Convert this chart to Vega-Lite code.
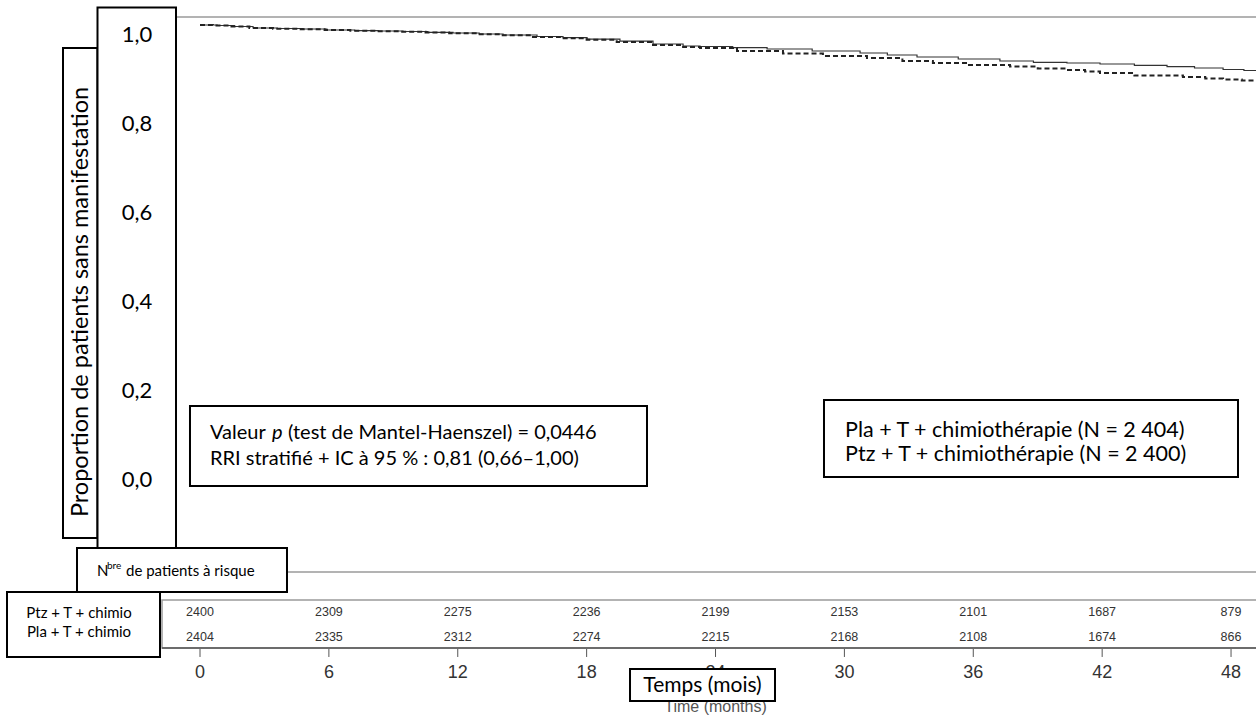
{
  "$schema": "https://vega.github.io/schema/vega-lite/v6.json",
  "width": 1256,
  "height": 715,
  "autosize": {"type": "fit", "contains": "padding"},
  "padding": 0,
  "background": "white",
  "config": {"view": {"stroke": null}},
  "datasets": {
    "km": [
      {"arm": "Ptz", "month": 0, "surv": 1.0},
      {"arm": "Ptz", "month": 0.8, "surv": 0.9989},
      {"arm": "Ptz", "month": 1.6, "surv": 0.9966},
      {"arm": "Ptz", "month": 2.47, "surv": 0.9933},
      {"arm": "Ptz", "month": 3.6, "surv": 0.9921},
      {"arm": "Ptz", "month": 4.8, "surv": 0.991},
      {"arm": "Ptz", "month": 5.91, "surv": 0.9888},
      {"arm": "Ptz", "month": 7.2, "surv": 0.9876},
      {"arm": "Ptz", "month": 8.3, "surv": 0.9865},
      {"arm": "Ptz", "month": 9.45, "surv": 0.9854},
      {"arm": "Ptz", "month": 10.6, "surv": 0.9836},
      {"arm": "Ptz", "month": 11.78, "surv": 0.982},
      {"arm": "Ptz", "month": 13.0, "surv": 0.9798},
      {"arm": "Ptz", "month": 14.11, "surv": 0.9775},
      {"arm": "Ptz", "month": 15.69, "surv": 0.9742},
      {"arm": "Ptz", "month": 16.9, "surv": 0.9715},
      {"arm": "Ptz", "month": 18.02, "surv": 0.9685},
      {"arm": "Ptz", "month": 19.55, "surv": 0.964},
      {"arm": "Ptz", "month": 21.09, "surv": 0.9573},
      {"arm": "Ptz", "month": 22.49, "surv": 0.9528},
      {"arm": "Ptz", "month": 23.28, "surv": 0.9517},
      {"arm": "Ptz", "month": 24.8, "surv": 0.949},
      {"arm": "Ptz", "month": 26.4, "surv": 0.9461},
      {"arm": "Ptz", "month": 28.5, "surv": 0.9416},
      {"arm": "Ptz", "month": 30.73, "surv": 0.9371},
      {"arm": "Ptz", "month": 32.0, "surv": 0.9326},
      {"arm": "Ptz", "month": 33.38, "surv": 0.9281},
      {"arm": "Ptz", "month": 35.3, "surv": 0.9236},
      {"arm": "Ptz", "month": 37.24, "surv": 0.9191},
      {"arm": "Ptz", "month": 38.8, "surv": 0.9162},
      {"arm": "Ptz", "month": 40.36, "surv": 0.9146},
      {"arm": "Ptz", "month": 41.9, "surv": 0.9124},
      {"arm": "Ptz", "month": 43.5, "surv": 0.9094},
      {"arm": "Ptz", "month": 45.02, "surv": 0.9067},
      {"arm": "Ptz", "month": 46.3, "surv": 0.9034},
      {"arm": "Ptz", "month": 47.63, "surv": 0.9},
      {"arm": "Ptz", "month": 48.6, "surv": 0.8978},
      {"arm": "Ptz", "month": 49.4, "surv": 0.8966},
      {"arm": "Pla", "month": 0, "surv": 1.0},
      {"arm": "Pla", "month": 0.6, "surv": 0.9989},
      {"arm": "Pla", "month": 1.4, "surv": 0.9966},
      {"arm": "Pla", "month": 2.3, "surv": 0.9933},
      {"arm": "Pla", "month": 3.4, "surv": 0.9917},
      {"arm": "Pla", "month": 4.6, "surv": 0.9903},
      {"arm": "Pla", "month": 5.8, "surv": 0.9888},
      {"arm": "Pla", "month": 7.0, "surv": 0.9872},
      {"arm": "Pla", "month": 8.2, "surv": 0.9858},
      {"arm": "Pla", "month": 9.3, "surv": 0.9847},
      {"arm": "Pla", "month": 10.5, "surv": 0.9831},
      {"arm": "Pla", "month": 11.6, "surv": 0.9813},
      {"arm": "Pla", "month": 12.9, "surv": 0.9791},
      {"arm": "Pla", "month": 14.0, "surv": 0.9769},
      {"arm": "Pla", "month": 15.5, "surv": 0.973},
      {"arm": "Pla", "month": 16.8, "surv": 0.9701},
      {"arm": "Pla", "month": 18.0, "surv": 0.967},
      {"arm": "Pla", "month": 19.4, "surv": 0.9618},
      {"arm": "Pla", "month": 21.0, "surv": 0.9551},
      {"arm": "Pla", "month": 22.49, "surv": 0.9506},
      {"arm": "Pla", "month": 23.28, "surv": 0.9483},
      {"arm": "Pla", "month": 25.0, "surv": 0.9416},
      {"arm": "Pla", "month": 27.14, "surv": 0.936},
      {"arm": "Pla", "month": 29.0, "surv": 0.9303},
      {"arm": "Pla", "month": 31.05, "surv": 0.9258},
      {"arm": "Pla", "month": 32.7, "surv": 0.9191},
      {"arm": "Pla", "month": 34.12, "surv": 0.9146},
      {"arm": "Pla", "month": 35.8, "surv": 0.9101},
      {"arm": "Pla", "month": 37.71, "surv": 0.9067},
      {"arm": "Pla", "month": 39.0, "surv": 0.9022},
      {"arm": "Pla", "month": 40.36, "surv": 0.8989},
      {"arm": "Pla", "month": 41.2, "surv": 0.8955},
      {"arm": "Pla", "month": 41.9, "surv": 0.8921},
      {"arm": "Pla", "month": 43.5, "surv": 0.8865},
      {"arm": "Pla", "month": 45.76, "surv": 0.8831},
      {"arm": "Pla", "month": 46.8, "surv": 0.8798},
      {"arm": "Pla", "month": 47.63, "surv": 0.8775},
      {"arm": "Pla", "month": 48.5, "surv": 0.8753},
      {"arm": "Pla", "month": 49.4, "surv": 0.8742}
    ],
    "risk": [
      {"arm": "Ptz", "month": 0, "n": 2400},
      {"arm": "Ptz", "month": 6, "n": 2309},
      {"arm": "Ptz", "month": 12, "n": 2275},
      {"arm": "Ptz", "month": 18, "n": 2236},
      {"arm": "Ptz", "month": 24, "n": 2199},
      {"arm": "Ptz", "month": 30, "n": 2153},
      {"arm": "Ptz", "month": 36, "n": 2101},
      {"arm": "Ptz", "month": 42, "n": 1687},
      {"arm": "Ptz", "month": 48, "n": 879},
      {"arm": "Pla", "month": 0, "n": 2404},
      {"arm": "Pla", "month": 6, "n": 2335},
      {"arm": "Pla", "month": 12, "n": 2312},
      {"arm": "Pla", "month": 18, "n": 2274},
      {"arm": "Pla", "month": 24, "n": 2215},
      {"arm": "Pla", "month": 30, "n": 2168},
      {"arm": "Pla", "month": 36, "n": 2108},
      {"arm": "Pla", "month": 42, "n": 1674},
      {"arm": "Pla", "month": 48, "n": 866}
    ],
    "xticks": [
      {"month": 0, "label": "0"}, {"month": 6, "label": "6"}, {"month": 12, "label": "12"},
      {"month": 18, "label": "18"}, {"month": 24, "label": "24"}, {"month": 30, "label": "30"},
      {"month": 36, "label": "36"}, {"month": 42, "label": "42"}, {"month": 48, "label": "48"}
    ],
    "yticks": [
      {"v": 1.0, "label": "1,0"}, {"v": 0.8, "label": "0,8"}, {"v": 0.6, "label": "0,6"},
      {"v": 0.4, "label": "0,4"}, {"v": 0.2, "label": "0,2"}, {"v": 0.0, "label": "0,0"}
    ]
  },
  "layer": [
    {
      "data": {"values": [{"el": "frame top"}]},
      "mark": {"type": "rule", "color": "#9a9a9a", "strokeWidth": 1.5, "clip": true},
      "encoding": {
        "x": {"datum": -1.117, "type": "quantitative", "scale": {"domain": [-9.311, 49.162], "nice": false, "zero": false}, "axis": null},
        "x2": {"datum": 49.162},
        "y": {"datum": 1.018, "type": "quantitative", "scale": {"domain": [-0.5506, 1.0562], "nice": false, "zero": false}, "axis": null}
      }
    },
    {
      "data": {"values": [{"el": "risk header line"}]},
      "mark": {"type": "rule", "color": "#9a9a9a", "strokeWidth": 1.5, "clip": true},
      "encoding": {
        "x": {"datum": 4.05, "type": "quantitative", "scale": {"domain": [-9.311, 49.162], "nice": false, "zero": false}, "axis": null},
        "x2": {"datum": 49.162},
        "y": {"datum": -0.2292, "type": "quantitative", "scale": {"domain": [-0.5506, 1.0562], "nice": false, "zero": false}, "axis": null}
      }
    },
    {
      "data": {"values": [{"el": "risk table frame"}]},
      "mark": {"type": "rect", "filled": false, "stroke": "#9a9a9a", "strokeWidth": 1.5, "clip": true},
      "encoding": {
        "x": {"datum": -1.769, "type": "quantitative", "scale": {"domain": [-9.311, 49.162], "nice": false, "zero": false}, "axis": null},
        "x2": {"datum": 49.6},
        "y": {"datum": -0.2921, "type": "quantitative", "scale": {"domain": [-0.5506, 1.0562], "nice": false, "zero": false}, "axis": null},
        "y2": {"datum": -0.4}
      }
    },
    {
      "data": {"values": [{"el": "x axis line"}]},
      "mark": {"type": "rule", "color": "#555555", "strokeWidth": 1.5, "clip": true},
      "encoding": {
        "x": {"datum": -1.769, "type": "quantitative", "scale": {"domain": [-9.311, 49.162], "nice": false, "zero": false}, "axis": null},
        "x2": {"datum": 49.162},
        "y": {"datum": -0.4, "type": "quantitative", "scale": {"domain": [-0.5506, 1.0562], "nice": false, "zero": false}, "axis": null}
      }
    },
    {
      "data": {"name": "km"},
      "transform": [{"filter": "datum.arm === 'Ptz'"}],
      "mark": {"type": "line", "interpolate": "step-after", "color": "#333333", "strokeWidth": 1.2, "clip": true},
      "encoding": {
        "x": {"field": "month", "type": "quantitative", "scale": {"domain": [-9.311, 49.162], "nice": false, "zero": false}, "axis": null},
        "y": {"field": "surv", "type": "quantitative", "scale": {"domain": [-0.5506, 1.0562], "nice": false, "zero": false}, "axis": null}
      }
    },
    {
      "data": {"name": "km"},
      "transform": [{"filter": "datum.arm === 'Pla'"}],
      "mark": {"type": "line", "interpolate": "step-after", "color": "#222222", "strokeWidth": 2, "strokeDash": [5, 3], "clip": true},
      "encoding": {
        "x": {"field": "month", "type": "quantitative", "scale": {"domain": [-9.311, 49.162], "nice": false, "zero": false}, "axis": null},
        "y": {"field": "surv", "type": "quantitative", "scale": {"domain": [-0.5506, 1.0562], "nice": false, "zero": false}, "axis": null}
      }
    },
    {
      "data": {"name": "risk"},
      "transform": [{"filter": "datum.arm === 'Ptz'"}],
      "mark": {"type": "text", "font": "Liberation Sans", "fontSize": 12.5, "color": "#333333", "align": "center", "baseline": "middle", "clip": true},
      "encoding": {
        "x": {"field": "month", "type": "quantitative", "scale": {"domain": [-9.311, 49.162], "nice": false, "zero": false}, "axis": null},
        "y": {"datum": -0.3191, "type": "quantitative", "scale": {"domain": [-0.5506, 1.0562], "nice": false, "zero": false}, "axis": null},
        "text": {"field": "n", "type": "nominal"}
      }
    },
    {
      "data": {"name": "risk"},
      "transform": [{"filter": "datum.arm === 'Pla'"}],
      "mark": {"type": "text", "font": "Liberation Sans", "fontSize": 12.5, "color": "#333333", "align": "center", "baseline": "middle", "clip": true},
      "encoding": {
        "x": {"field": "month", "type": "quantitative", "scale": {"domain": [-9.311, 49.162], "nice": false, "zero": false}, "axis": null},
        "y": {"datum": -0.3753, "type": "quantitative", "scale": {"domain": [-0.5506, 1.0562], "nice": false, "zero": false}, "axis": null},
        "text": {"field": "n", "type": "nominal"}
      }
    },
    {
      "data": {"name": "xticks"},
      "mark": {"type": "rule", "color": "#555555", "strokeWidth": 1, "clip": true},
      "encoding": {
        "x": {"field": "month", "type": "quantitative", "scale": {"domain": [-9.311, 49.162], "nice": false, "zero": false}, "axis": null},
        "y": {"datum": -0.4022, "type": "quantitative", "scale": {"domain": [-0.5506, 1.0562], "nice": false, "zero": false}, "axis": null},
        "y2": {"datum": -0.4202}
      }
    },
    {
      "data": {"name": "xticks"},
      "mark": {"type": "text", "font": "Liberation Sans", "fontSize": 18, "color": "#333333", "align": "center", "baseline": "middle", "clip": true},
      "encoding": {
        "x": {"field": "month", "type": "quantitative", "scale": {"domain": [-9.311, 49.162], "nice": false, "zero": false}, "axis": null},
        "y": {"datum": -0.4562, "type": "quantitative", "scale": {"domain": [-0.5506, 1.0562], "nice": false, "zero": false}, "axis": null},
        "text": {"field": "label", "type": "nominal"}
      }
    },
    {
      "data": {"values": [{"text": "Time (months)"}]},
      "mark": {"type": "text", "font": "Liberation Sans", "fontSize": 16, "color": "#555555", "align": "center", "baseline": "middle", "clip": true},
      "encoding": {
        "x": {"datum": 24, "type": "quantitative", "scale": {"domain": [-9.311, 49.162], "nice": false, "zero": false}, "axis": null},
        "y": {"datum": -0.5326, "type": "quantitative", "scale": {"domain": [-0.5506, 1.0562], "nice": false, "zero": false}, "axis": null},
        "text": {"field": "text", "type": "nominal"}
      }
    },
    {
      "data": {"values": [{"box": "x title"}]},
      "mark": {"type": "rect", "fill": "white", "stroke": "black", "strokeWidth": 2, "clip": true},
      "encoding": {
        "x": {"datum": 20.019, "type": "quantitative", "scale": {"domain": [-9.311, 49.162], "nice": false, "zero": false}, "axis": null},
        "x2": {"datum": 26.769},
        "y": {"datum": -0.4472, "type": "quantitative", "scale": {"domain": [-0.5506, 1.0562], "nice": false, "zero": false}, "axis": null},
        "y2": {"datum": -0.5191}
      }
    },
    {
      "data": {"values": [{"text": "Temps (mois)"}]},
      "mark": {"type": "text", "font": "Lato", "fontSize": 21, "color": "black", "align": "center", "baseline": "middle", "clip": true},
      "encoding": {
        "x": {"datum": 23.394, "type": "quantitative", "scale": {"domain": [-9.311, 49.162], "nice": false, "zero": false}, "axis": null},
        "y": {"datum": -0.4854, "type": "quantitative", "scale": {"domain": [-0.5506, 1.0562], "nice": false, "zero": false}, "axis": null},
        "text": {"field": "text", "type": "nominal"}
      }
    },
    {
      "data": {"values": [{"box": "y title"}]},
      "mark": {"type": "rect", "fill": "white", "stroke": "black", "strokeWidth": 2, "clip": true},
      "encoding": {
        "x": {"datum": -6.378, "type": "quantitative", "scale": {"domain": [-9.311, 49.162], "nice": false, "zero": false}, "axis": null},
        "x2": {"datum": -4.772},
        "y": {"datum": 0.9483, "type": "quantitative", "scale": {"domain": [-0.5506, 1.0562], "nice": false, "zero": false}, "axis": null},
        "y2": {"datum": -0.1528}
      }
    },
    {
      "data": {"values": [{"text": "Proportion de patients sans manifestation"}]},
      "mark": {"type": "text", "font": "Lato", "fontSize": 23.5, "color": "black", "align": "center", "baseline": "middle", "angle": 270, "clip": true},
      "encoding": {
        "x": {"datum": -5.54, "type": "quantitative", "scale": {"domain": [-9.311, 49.162], "nice": false, "zero": false}, "axis": null},
        "y": {"datum": 0.3775, "type": "quantitative", "scale": {"domain": [-0.5506, 1.0562], "nice": false, "zero": false}, "axis": null},
        "text": {"field": "text", "type": "nominal"}
      }
    },
    {
      "data": {"values": [{"box": "y labels"}]},
      "mark": {"type": "rect", "fill": "white", "stroke": "black", "strokeWidth": 2, "clip": true},
      "encoding": {
        "x": {"datum": -4.772, "type": "quantitative", "scale": {"domain": [-9.311, 49.162], "nice": false, "zero": false}, "axis": null},
        "x2": {"datum": -1.117},
        "y": {"datum": 1.0393, "type": "quantitative", "scale": {"domain": [-0.5506, 1.0562], "nice": false, "zero": false}, "axis": null},
        "y2": {"datum": -0.1753}
      }
    },
    {
      "data": {"name": "yticks"},
      "mark": {"type": "text", "font": "Lato", "fontSize": 22, "color": "black", "align": "center", "baseline": "middle", "dy": 10, "clip": true},
      "encoding": {
        "x": {"datum": -2.933, "type": "quantitative", "scale": {"domain": [-9.311, 49.162], "nice": false, "zero": false}, "axis": null},
        "y": {"field": "v", "type": "quantitative", "scale": {"domain": [-0.5506, 1.0562], "nice": false, "zero": false}, "axis": null},
        "text": {"field": "label", "type": "nominal"}
      }
    },
    {
      "data": {"values": [{"box": "test box"}]},
      "mark": {"type": "rect", "fill": "white", "stroke": "black", "strokeWidth": 2, "clip": true},
      "encoding": {
        "x": {"datum": -0.466, "type": "quantitative", "scale": {"domain": [-9.311, 49.162], "nice": false, "zero": false}, "axis": null},
        "x2": {"datum": 20.81},
        "y": {"datum": 0.1438, "type": "quantitative", "scale": {"domain": [-0.5506, 1.0562], "nice": false, "zero": false}, "axis": null},
        "y2": {"datum": -0.036}
      }
    },
    {
      "data": {"values": [{"text": "Valeur"}]},
      "mark": {"type": "text", "font": "Lato", "fontSize": 20, "color": "black", "align": "left", "baseline": "middle", "clip": true},
      "encoding": {
        "x": {"datum": 0.466, "type": "quantitative", "scale": {"domain": [-9.311, 49.162], "nice": false, "zero": false}, "axis": null},
        "y": {"datum": 0.0831, "type": "quantitative", "scale": {"domain": [-0.5506, 1.0562], "nice": false, "zero": false}, "axis": null},
        "text": {"field": "text", "type": "nominal"}
      }
    },
    {
      "data": {"values": [{"text": "p"}]},
      "mark": {"type": "text", "font": "Lato", "fontSize": 20, "fontStyle": "italic", "color": "black", "align": "left", "baseline": "middle", "clip": true},
      "encoding": {
        "x": {"datum": 3.352, "type": "quantitative", "scale": {"domain": [-9.311, 49.162], "nice": false, "zero": false}, "axis": null},
        "y": {"datum": 0.0831, "type": "quantitative", "scale": {"domain": [-0.5506, 1.0562], "nice": false, "zero": false}, "axis": null},
        "text": {"field": "text", "type": "nominal"}
      }
    },
    {
      "data": {"values": [{"text": "(test de Mantel-Haenszel) = 0,0446"}]},
      "mark": {"type": "text", "font": "Lato", "fontSize": 20, "color": "black", "align": "left", "baseline": "middle", "clip": true},
      "encoding": {
        "x": {"datum": 4.097, "type": "quantitative", "scale": {"domain": [-9.311, 49.162], "nice": false, "zero": false}, "axis": null},
        "y": {"datum": 0.0831, "type": "quantitative", "scale": {"domain": [-0.5506, 1.0562], "nice": false, "zero": false}, "axis": null},
        "text": {"field": "text", "type": "nominal"}
      }
    },
    {
      "data": {"values": [{"text": "RRI stratifié + IC à 95 % : 0,81 (0,66–1,00)"}]},
      "mark": {"type": "text", "font": "Lato", "fontSize": 20, "color": "black", "align": "left", "baseline": "middle", "clip": true},
      "encoding": {
        "x": {"datum": 0.466, "type": "quantitative", "scale": {"domain": [-9.311, 49.162], "nice": false, "zero": false}, "axis": null},
        "y": {"datum": 0.0247, "type": "quantitative", "scale": {"domain": [-0.5506, 1.0562], "nice": false, "zero": false}, "axis": null},
        "text": {"field": "text", "type": "nominal"}
      }
    },
    {
      "data": {"values": [{"box": "legend box"}]},
      "mark": {"type": "rect", "fill": "white", "stroke": "black", "strokeWidth": 2, "clip": true},
      "encoding": {
        "x": {"datum": 29.05, "type": "quantitative", "scale": {"domain": [-9.311, 49.162], "nice": false, "zero": false}, "axis": null},
        "x2": {"datum": 48.324},
        "y": {"datum": 0.1573, "type": "quantitative", "scale": {"domain": [-0.5506, 1.0562], "nice": false, "zero": false}, "axis": null},
        "y2": {"datum": -0.0157}
      }
    },
    {
      "data": {"values": [{"text": "Pla + T + chimiothérapie (N = 2 404)"}]},
      "mark": {"type": "text", "font": "Lato", "fontSize": 21.5, "color": "black", "align": "left", "baseline": "middle", "clip": true},
      "encoding": {
        "x": {"datum": 30.03, "type": "quantitative", "scale": {"domain": [-9.311, 49.162], "nice": false, "zero": false}, "axis": null},
        "y": {"datum": 0.0876, "type": "quantitative", "scale": {"domain": [-0.5506, 1.0562], "nice": false, "zero": false}, "axis": null},
        "text": {"field": "text", "type": "nominal"}
      }
    },
    {
      "data": {"values": [{"text": "Ptz + T + chimiothérapie (N = 2 400)"}]},
      "mark": {"type": "text", "font": "Lato", "fontSize": 21.5, "color": "black", "align": "left", "baseline": "middle", "clip": true},
      "encoding": {
        "x": {"datum": 30.03, "type": "quantitative", "scale": {"domain": [-9.311, 49.162], "nice": false, "zero": false}, "axis": null},
        "y": {"datum": 0.0337, "type": "quantitative", "scale": {"domain": [-0.5506, 1.0562], "nice": false, "zero": false}, "axis": null},
        "text": {"field": "text", "type": "nominal"}
      }
    },
    {
      "data": {"values": [{"box": "at risk header"}]},
      "mark": {"type": "rect", "fill": "white", "stroke": "black", "strokeWidth": 2, "clip": true},
      "encoding": {
        "x": {"datum": -5.726, "type": "quantitative", "scale": {"domain": [-9.311, 49.162], "nice": false, "zero": false}, "axis": null},
        "x2": {"datum": 4.05},
        "y": {"datum": -0.1753, "type": "quantitative", "scale": {"domain": [-0.5506, 1.0562], "nice": false, "zero": false}, "axis": null},
        "y2": {"datum": -0.2742}
      }
    },
    {
      "data": {"values": [{"text": "N"}]},
      "mark": {"type": "text", "font": "Lato", "fontSize": 15, "color": "black", "align": "left", "baseline": "middle", "clip": true},
      "encoding": {
        "x": {"datum": -4.795, "type": "quantitative", "scale": {"domain": [-9.311, 49.162], "nice": false, "zero": false}, "axis": null},
        "y": {"datum": -0.227, "type": "quantitative", "scale": {"domain": [-0.5506, 1.0562], "nice": false, "zero": false}, "axis": null},
        "text": {"field": "text", "type": "nominal"}
      }
    },
    {
      "data": {"values": [{"text": "bre"}]},
      "mark": {"type": "text", "font": "Lato", "fontSize": 10, "color": "black", "align": "left", "baseline": "middle", "clip": true},
      "encoding": {
        "x": {"datum": -4.33, "type": "quantitative", "scale": {"domain": [-9.311, 49.162], "nice": false, "zero": false}, "axis": null},
        "y": {"datum": -0.2157, "type": "quantitative", "scale": {"domain": [-0.5506, 1.0562], "nice": false, "zero": false}, "axis": null},
        "text": {"field": "text", "type": "nominal"}
      }
    },
    {
      "data": {"values": [{"text": "de patients à risque"}]},
      "mark": {"type": "text", "font": "Lato", "fontSize": 15, "color": "black", "align": "left", "baseline": "middle", "clip": true},
      "encoding": {
        "x": {"datum": -3.445, "type": "quantitative", "scale": {"domain": [-9.311, 49.162], "nice": false, "zero": false}, "axis": null},
        "y": {"datum": -0.227, "type": "quantitative", "scale": {"domain": [-0.5506, 1.0562], "nice": false, "zero": false}, "axis": null},
        "text": {"field": "text", "type": "nominal"}
      }
    },
    {
      "data": {"values": [{"box": "arm labels"}]},
      "mark": {"type": "rect", "fill": "white", "stroke": "black", "strokeWidth": 2, "clip": true},
      "encoding": {
        "x": {"datum": -8.985, "type": "quantitative", "scale": {"domain": [-9.311, 49.162], "nice": false, "zero": false}, "axis": null},
        "x2": {"datum": -1.862},
        "y": {"datum": -0.2742, "type": "quantitative", "scale": {"domain": [-0.5506, 1.0562], "nice": false, "zero": false}, "axis": null},
        "y2": {"datum": -0.4202}
      }
    },
    {
      "data": {"values": [{"text": "Ptz + T + chimio"}]},
      "mark": {"type": "text", "font": "Lato", "fontSize": 15, "color": "black", "align": "center", "baseline": "middle", "clip": true},
      "encoding": {
        "x": {"datum": -5.633, "type": "quantitative", "scale": {"domain": [-9.311, 49.162], "nice": false, "zero": false}, "axis": null},
        "y": {"datum": -0.3213, "type": "quantitative", "scale": {"domain": [-0.5506, 1.0562], "nice": false, "zero": false}, "axis": null},
        "text": {"field": "text", "type": "nominal"}
      }
    },
    {
      "data": {"values": [{"text": "Pla + T + chimio"}]},
      "mark": {"type": "text", "font": "Lato", "fontSize": 15, "color": "black", "align": "center", "baseline": "middle", "clip": true},
      "encoding": {
        "x": {"datum": -5.633, "type": "quantitative", "scale": {"domain": [-9.311, 49.162], "nice": false, "zero": false}, "axis": null},
        "y": {"datum": -0.364, "type": "quantitative", "scale": {"domain": [-0.5506, 1.0562], "nice": false, "zero": false}, "axis": null},
        "text": {"field": "text", "type": "nominal"}
      }
    }
  ]
}
